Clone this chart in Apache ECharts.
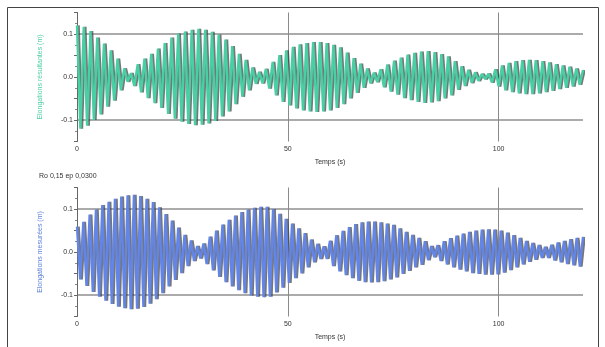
<!DOCTYPE html>
<html>
<head>
<meta charset="utf-8">
<script src="https://cdn.jsdelivr.net/npm/echarts@6/dist/echarts.min.js"></script>
<style>
  html, body { margin: 0; padding: 0; background: #fff; }
  #chart { width: 605px; height: 347px; }
</style>
</head>
<body>
<div id="chart"></div>
<script>
// Pendule 1 : élongation aux crêtes successives (m), une crête toutes les 0,8 s
const dt1 = 0.8;
const elong1 = [
  0.120, -0.120, 0.117, -0.113, 0.107, -0.100, 0.092, -0.087, 0.078, -0.069,
  0.062, -0.055, 0.043, -0.031, 0.020, -0.011, 0.009, -0.021, 0.030, -0.036,
  0.043, -0.049, 0.054, -0.061, 0.066, -0.072, 0.079, -0.086, 0.092, -0.097,
  0.101, -0.104, 0.106, -0.109, 0.110, -0.112, 0.112, -0.111, 0.110, -0.108,
  0.105, -0.102, 0.099, -0.092, 0.087, -0.080, 0.072, -0.063, 0.054, -0.046,
  0.040, -0.031, 0.022, -0.016, 0.012, -0.015, 0.019, -0.027, 0.035, -0.043,
  0.051, -0.058, 0.062, -0.066, 0.070, -0.073, 0.076, -0.078, 0.079, -0.080,
  0.081, -0.081, 0.081, -0.080, 0.079, -0.078, 0.075, -0.072, 0.069, -0.063,
  0.057, -0.050, 0.044, -0.037, 0.031, -0.025, 0.020, -0.015, 0.010, -0.012,
  0.018, -0.024, 0.029, -0.034, 0.038, -0.041, 0.045, -0.049, 0.052, -0.054,
  0.056, -0.058, 0.059, -0.060, 0.060, -0.059, 0.058, -0.056, 0.053, -0.050,
  0.048, -0.043, 0.037, -0.030, 0.025, -0.021, 0.017, -0.014, 0.011, -0.009,
  0.007, -0.005, 0.008, -0.013, 0.018, -0.022, 0.027, -0.031, 0.033, -0.035,
  0.037, -0.038, 0.039, -0.040, 0.040, -0.040, 0.039, -0.038, 0.037, -0.035,
  0.034, -0.032, 0.030, -0.028, 0.027, -0.025, 0.024, -0.022, 0.020, -0.018,
  0.016
];

// Pendule 2 : élongation aux crêtes successives (m), une crête toutes les 0,75 s
const dt2 = 0.75;
const elong2 = [
  0.059, -0.064, 0.070, -0.079, 0.087, -0.093, 0.099, -0.104, 0.109, -0.113,
  0.117, -0.121, 0.124, -0.127, 0.129, -0.131, 0.132, -0.133, 0.133, -0.132,
  0.130, -0.128, 0.124, -0.120, 0.116, -0.110, 0.104, -0.096, 0.088, -0.080,
  0.073, -0.065, 0.057, -0.049, 0.040, -0.033, 0.027, -0.021, 0.014, -0.015,
  0.020, -0.028, 0.036, -0.043, 0.050, -0.058, 0.064, -0.070, 0.075, -0.080,
  0.085, -0.089, 0.093, -0.096, 0.099, -0.101, 0.103, -0.104, 0.105, -0.105,
  0.105, -0.104, 0.100, -0.094, 0.089, -0.083, 0.077, -0.072, 0.066, -0.061,
  0.055, -0.050, 0.044, -0.036, 0.029, -0.024, 0.019, -0.016, 0.013, -0.016,
  0.026, -0.033, 0.039, -0.045, 0.049, -0.054, 0.058, -0.061, 0.065, -0.067,
  0.069, -0.070, 0.071, -0.071, 0.071, -0.070, 0.069, -0.068, 0.066, -0.064,
  0.063, -0.059, 0.055, -0.051, 0.047, -0.044, 0.040, -0.036, 0.033, -0.030,
  0.025, -0.019, 0.014, -0.012, 0.016, -0.021, 0.025, -0.029, 0.032, -0.036,
  0.038, -0.041, 0.043, -0.045, 0.047, -0.049, 0.050, -0.051, 0.052, -0.053,
  0.053, -0.053, 0.052, -0.052, 0.050, -0.048, 0.045, -0.042, 0.039, -0.036,
  0.033, -0.029, 0.026, -0.023, 0.021, -0.018, 0.016, -0.014, 0.012, -0.014,
  0.017, -0.020, 0.022, -0.024, 0.026, -0.028, 0.030, -0.031, 0.033, -0.034,
  0.035
];

const xTicks = [0, 50, 100];
const yTicks = [-0.1, 0, 0.1];
const subtitle = 'Ro 0,15 ep 0,0300';

const toPairs = (vals, dt) => vals.map((v, i) => [+(i * dt).toFixed(2), v]);

const font = 'Liberation Sans, Arial, sans-serif';

const chart = echarts.init(document.getElementById('chart'), null, { renderer: 'canvas' });

function xAxisFor(idx) {
  return {
    type: 'value', gridIndex: idx, min: 0, max: 120, interval: 50,
    name: 'Temps (s)', nameLocation: 'middle', nameGap: 17,
    nameTextStyle: { fontSize: 7, color: '#333', fontFamily: font },
    axisLine: { show: false },
    axisTick: { show: false },
    axisLabel: {
      fontSize: 7, color: '#333', margin: 4, fontFamily: font,
      formatter: v => (xTicks.includes(v) ? String(v) : '')
    },
    splitLine: { show: true, lineStyle: { color: ['rgba(0,0,0,0)', '#8a8a8a', '#8a8a8a', 'rgba(0,0,0,0)'], width: 1 } }
  };
}

function yAxisFor(idx, name, color) {
  return {
    type: 'value', gridIndex: idx, min: -0.15, max: 0.15, interval: 0.05,
    name: name, nameLocation: 'middle', nameGap: 33,
    nameTextStyle: { fontSize: 7, color: color, fontFamily: font },
    axisLine: { show: true, lineStyle: { color: '#666', width: 1 } },
    axisTick: { show: true, length: 3, lineStyle: { color: '#666' } },
    minorTick: { show: true, splitNumber: 2, length: 2, lineStyle: { color: '#888' } },
    axisLabel: {
      fontSize: 7, color: '#333', margin: 4, fontFamily: font,
      formatter: v => {
        const hit = yTicks.find(t => Math.abs(t - v) < 1e-6);
        return hit === undefined ? '' : hit.toFixed(1);
      }
    },
    splitLine: {
      show: true,
      lineStyle: {
        color: ['rgba(0,0,0,0)', '#8f8f8f', 'rgba(0,0,0,0)', 'rgba(0,0,0,0)', 'rgba(0,0,0,0)', '#8f8f8f', 'rgba(0,0,0,0)'],
        width: 1.5
      }
    }
  };
}

function waveSeries(idx, data, color) {
  return {
    type: 'line', xAxisIndex: idx, yAxisIndex: idx,
    data: data, showSymbol: false, symbol: 'none', silent: true,
    animation: false,
    lineStyle: {
      color: color, width: 2.4,
      shadowColor: 'rgba(60,60,60,0.7)', shadowBlur: 0, shadowOffsetX: 1.6
    }
  };
}

const option = {
  backgroundColor: '#fff',
  animation: false,
  title: {
    text: subtitle, left: 34, top: 168,
    textStyle: { fontSize: 7, fontWeight: 'normal', color: '#333', fontFamily: font }
  },
  graphic: [{
    type: 'rect', silent: true, z: -1,
    shape: { x: 7.5, y: 7.5, width: 591, height: 350 },
    style: { fill: 'none', stroke: '#444', lineWidth: 1 }
  }],
  grid: [
    { left: 77, right: 22, top: 12.5, height: 129 },
    { left: 77, right: 22, top: 187.5, height: 129 }
  ],
  xAxis: [xAxisFor(0), xAxisFor(1)],
  yAxis: [
    yAxisFor(0, 'Elongations résultantes (m)', '#4fcfa6'),
    yAxisFor(1, 'Elongations mesurées (m)', '#5b7fd6')
  ],
  series: [
    waveSeries(0, toPairs(elong1, dt1), '#48d0a4'),
    waveSeries(1, toPairs(elong2, dt2), '#6386e6')
  ]
};

chart.setOption(option);
</script>
</body>
</html>
